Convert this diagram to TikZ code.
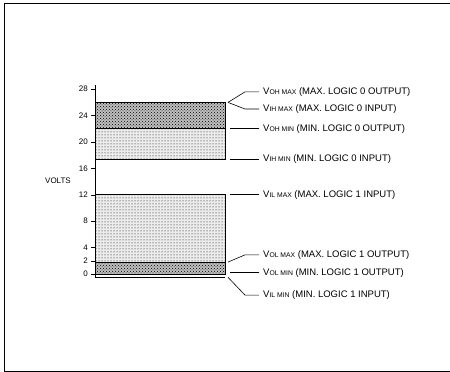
\documentclass[tikz,border=0pt]{standalone}
\usepackage{fontspec}
\setmainfont{Liberation Sans}
\usetikzlibrary{patterns}
\newcommand{\vsig}[1]{V{\fontsize{6.8pt}{7pt}\selectfont #1}}

\begin{document}
\begin{tikzpicture}[x=1pt, y=1pt,
  band/.style={draw=black, thick},
  dense/.style={band, fill=gray!50, postaction={pattern=crosshatch dots}},
  light/.style={band, fill=gray!15, postaction={pattern=dots}},
  tick/.style={font=\fontsize{8pt}{9pt}\selectfont, anchor=east, inner sep=1pt},
  sig/.style={font=\fontsize{9.5pt}{10pt}\selectfont, anchor=west, inner sep=1pt},
  lead/.style={line width=0.6pt}
]
\useasboundingbox (0,0) rectangle (450,372);
% open frame
\draw[thick] (450,369) -- (4,369) -- (4,1) -- (450,1);

\begin{scope}[shift={(95,98)}, y=6.6pt]
% bands
\draw[dense] (0,22) rectangle (130,26);
\draw[light] (0,17.4) rectangle (130,22);
\draw[light] (0,1.8) rectangle (130,12);
\draw[dense] (0,0) rectangle (130,1.8);
\draw[band] (0,-0.5) -- (130,-0.5);

% axis
\draw (0,-0.5) -- (0,28.6);
\foreach \v in {0,2,4,8,12,16,20,24,28}
  \draw (-4,\v) -- (0,\v) node[tick, at start, xshift=-2pt] {\v};
\node[font=\fontsize{8pt}{9pt}\selectfont] (volts) at (-37,14.1) {VOLTS};

% labels
\node[sig] (vohmax) at (167,27.6) {\vsig{OH MAX} (MAX. LOGIC 0 OUTPUT)};
\node[sig] (vihmax) at (167,25.0) {\vsig{IH MAX} (MAX. LOGIC 0 INPUT)};
\node[sig] (vohmin) at (167,22) {\vsig{OH MIN} (MIN. LOGIC 0 OUTPUT)};
\node[sig] (vihmin) at (167,17.4) {\vsig{IH MIN} (MIN. LOGIC 0 INPUT)};
\node[sig] (vilmax) at (167,12) {\vsig{IL MAX} (MAX. LOGIC 1 INPUT)};
\node[sig] (volmax) at (167,2.9) {\vsig{OL MAX} (MAX. LOGIC 1 OUTPUT)};
\node[sig] (volmin) at (167,0.2) {\vsig{OL MIN} (MIN. LOGIC 1 OUTPUT)};
\node[sig] (vilmin) at (167,-3.2) {\vsig{IL MIN} (MIN. LOGIC 1 INPUT)};

% leaders
\coordinate (ftop) at (133,26);
\coordinate (fbot) at (133,1.8);
\coordinate (fneg) at (133,-0.5);
\draw[lead] (vohmax.west) ++(-3,0) -- ++(-14,0) -- (ftop);
\draw[lead] (vihmax.west) ++(-3,0) -- ++(-14,0) -- (ftop);
\draw[lead] (vohmin.west) ++(-3,0) -- (135,22);
\draw[lead] (vihmin.west) ++(-3,0) -- (135,17.4);
\draw[lead] (vilmax.west) ++(-3,0) -- (135,12);
\draw[lead] (volmax.west) ++(-3,0) -- ++(-14,0) -- (fbot);
\draw[lead] (volmin.west) ++(-3,0) -- (135,0.2);
\draw[lead] (vilmin.west) ++(-3,0) -- ++(-14,0) -- (fneg);
\end{scope}
\end{tikzpicture}
\end{document}
